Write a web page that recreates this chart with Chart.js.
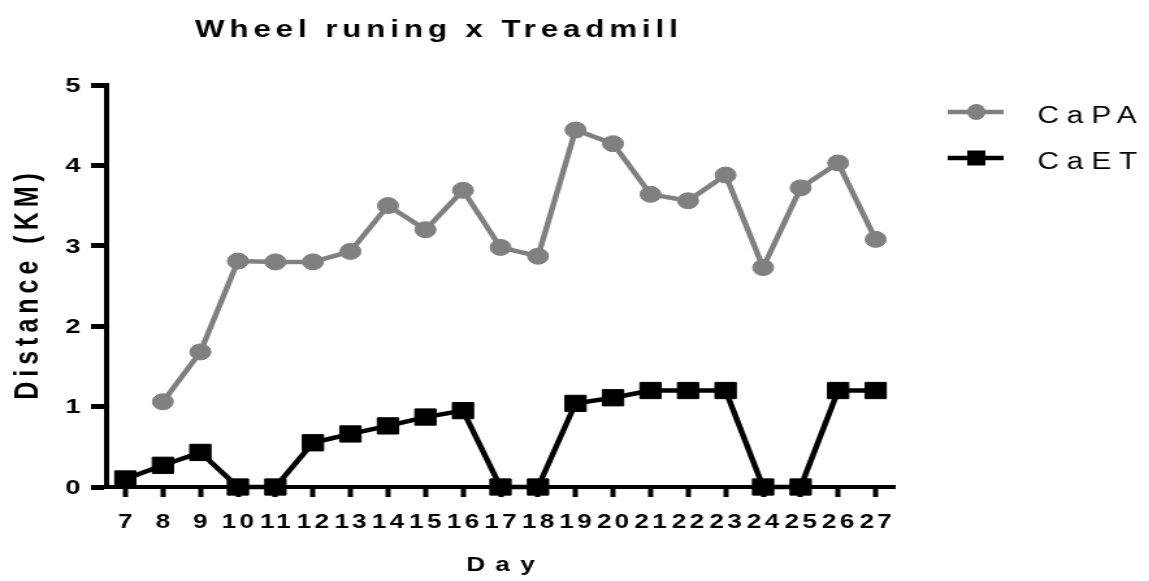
<!DOCTYPE html>
<html lang="en">
<head>
  <meta charset="UTF-8">
  <title>Wheel runing x Treadmill</title>
  <script src="https://cdn.jsdelivr.net/npm/chart.js"></script>
  <style>
    body {
      margin: 0;
      padding: 0;
      background: #fff;
      overflow: hidden;
    }
    /* the original export is stretched sideways, so draw narrow and stretch */
    #wrap {
      width: 884px;
      height: 581px;
      transform: scaleX(1.3);
      transform-origin: 0 0;
    }
  </style>
</head>
<body>
  <div id="wrap">
    <canvas id="wheelChart"></canvas>
  </div>

  <script>
    const chartTitle = 'Wheel runing x Treadmill';
    const xTitle = 'Day';
    const yTitle = 'Distance (KM)';

    const days = ['7', '8', '9', '10', '11', '12', '13', '14', '15', '16', '17',
                  '18', '19', '20', '21', '22', '23', '24', '25', '26', '27'];
    const capaKm = [null, 1.06, 1.68, 2.81, 2.80, 2.80, 2.93, 3.50, 3.20, 3.69, 2.98,
                    2.87, 4.44, 4.27, 3.64, 3.56, 3.88, 2.73, 3.72, 4.03, 3.08];
    const caetKm = [0.10, 0.27, 0.43, 0, 0, 0.55, 0.66, 0.76, 0.87, 0.95, 0,
                    0, 1.04, 1.11, 1.20, 1.20, 1.20, 0, 0, 1.20, 1.20];
    const yMin = 0;
    const yMax = 5;
    const yStep = 1;

    const FONT = '"Liberation Sans", Arial, sans-serif';
    const GREY = '#808080';

    // Chrome drops letterSpacing whenever ctx.font is set, so Chart's own
    // text can't be spaced out. All text is drawn here instead, placed with
    // the chart's scales.
    const textPlugin = {
      id: 'prismTexts',
      afterDraw(chart) {
        const ctx = chart.ctx;
        const area = chart.chartArea;
        const xs = chart.scales.x;
        const ys = chart.scales.y;
        ctx.save();
        ctx.fillStyle = '#000';
        ctx.textBaseline = 'alphabetic';

        // x tick labels
        ctx.font = 'bold 20px ' + FONT;
        ctx.letterSpacing = '2.6px';
        ctx.textAlign = 'center';
        xs.ticks.forEach((t, i) => {
          ctx.fillText(xs.getLabelForValue(t.value), xs.getPixelForTick(i) + 1.3, 528);
        });

        // y tick labels
        ctx.font = 'bold 21px ' + FONT;
        ctx.letterSpacing = '0px';
        ctx.textAlign = 'right';
        ctx.textBaseline = 'middle';
        ys.ticks.forEach((t) => {
          ctx.fillText(String(t.value), 62, ys.getPixelForValue(t.value) + 1);
        });
        ctx.textBaseline = 'alphabetic';

        // chart title
        ctx.font = 'bold 24px ' + FONT;
        ctx.letterSpacing = '3.8px';
        ctx.textAlign = 'left';
        ctx.fillText(chartTitle, 150, 37);

        // x axis title
        ctx.font = 'bold 20px ' + FONT;
        ctx.letterSpacing = '8px';
        ctx.textAlign = 'center';
        ctx.fillText(xTitle, (area.left + area.right) / 2 + 4, 571);

        // y axis title
        ctx.save();
        ctx.translate(22, (area.top + area.bottom) / 2);
        ctx.rotate(-Math.PI / 2);
        ctx.font = 'bold 25px ' + FONT;
        ctx.letterSpacing = '5px';
        ctx.textAlign = 'center';
        ctx.textBaseline = 'middle';
        ctx.fillText(yTitle, 2, 0);
        ctx.restore();

        // legend
        ctx.font = '23px ' + FONT;
        ctx.letterSpacing = '6px';
        ctx.textAlign = 'left';
        chart.data.datasets.forEach((ds, i) => {
          const y = 112 + i * 46;
          ctx.strokeStyle = ds.borderColor;
          ctx.lineWidth = 4.5;
          ctx.beginPath();
          ctx.moveTo(729, y);
          ctx.lineTo(772, y);
          ctx.stroke();
          ctx.fillStyle = ds.backgroundColor;
          if (ds.pointStyle === 'rect') {
            ctx.fillRect(744, y - 7.5, 14, 15);
          } else {
            ctx.beginPath();
            ctx.ellipse(751, y, 7, 8, 0, 0, Math.PI * 2);
            ctx.fill();
          }
          ctx.fillStyle = '#000';
          ctx.fillText(ds.label, 798, y + 11);
        });
        ctx.restore();
      }
    };

    const ctx = document.getElementById('wheelChart').getContext('2d');

    new Chart(ctx, {
      type: 'line',
      data: {
        labels: days,
        datasets: [
          {
            label: 'CaPA',
            data: capaKm,
            borderColor: GREY,
            backgroundColor: GREY,
            borderWidth: 4.5,
            pointStyle: 'circle',
            pointRadius: 8,
            pointBorderWidth: 1,
            pointBackgroundColor: GREY,
            pointBorderColor: GREY,
            tension: 0,
            clip: false
          },
          {
            label: 'CaET',
            data: caetKm,
            borderColor: '#000',
            backgroundColor: '#000',
            borderWidth: 4.5,
            pointStyle: 'rect',
            pointRadius: 11.5,
            pointBorderWidth: 1,
            pointBackgroundColor: '#000',
            pointBorderColor: '#000',
            tension: 0,
            clip: false
          }
        ]
      },
      options: {
        responsive: true,
        maintainAspectRatio: false,
        animation: false,
        layout: {
          padding: { left: 0, top: 85, right: 196, bottom: 0 }
        },
        plugins: {
          legend: { display: false },
          title: { display: false },
          tooltip: { enabled: false }
        },
        scales: {
          x: {
            type: 'category',
            offset: true,
            afterFit: (scale) => { scale.height = 94; },
            grid: {
              drawOnChartArea: false,
              offset: false,
              drawTicks: true,
              tickLength: 10,
              tickWidth: 4,
              tickColor: '#000'
            },
            border: { display: true, color: '#000', width: 4 },
            ticks: {
              display: false,
              autoSkip: false,
              maxRotation: 0,
              minRotation: 0
            }
          },
          y: {
            min: yMin,
            max: yMax,
            afterFit: (scale) => { scale.width = 82; },
            grid: {
              drawOnChartArea: false,
              drawTicks: true,
              tickLength: 12,
              tickWidth: 5,
              tickColor: '#000'
            },
            border: { display: true, color: '#000', width: 4 },
            ticks: {
              display: false,
              stepSize: yStep
            }
          }
        }
      },
      plugins: [textPlugin]
    });
  </script>
</body>
</html>
